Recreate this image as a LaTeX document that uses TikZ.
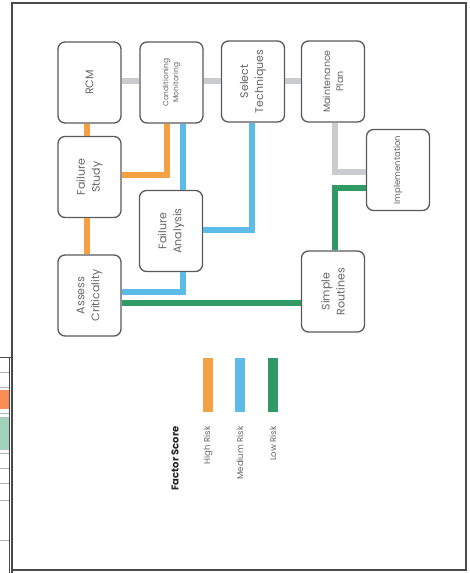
\documentclass[tikz,border=0pt]{standalone}
\usepackage{fontspec}
\setmainfont{Poppins}
\begin{document}
\begin{tikzpicture}[x=1pt,y=-1pt,
  box/.style={draw=boxc, line width=1.3pt, rounded corners=7pt, fill=white,
              minimum width=63pt, minimum height=81pt, inner sep=0pt},
  txt/.style={rotate=90, text=txtc, align=center, font=\fontsize{11}{15}\selectfont},
  conn/.style={line width=6pt},
  hi/.style={conn, draw=orangec},
  me/.style={conn, draw=bluec},
  lo/.style={conn, draw=greenc},
  gy/.style={conn, draw=grayc},
  leg/.style={rotate=90, anchor=east, text=txtc, font=\fontsize{8.5}{10}\selectfont}
]
\definecolor{boxc}{HTML}{5A5A5A}
\definecolor{txtc}{HTML}{666666}
\definecolor{orangec}{HTML}{F5A043}
\definecolor{bluec}{HTML}{5DBBE8}
\definecolor{greenc}{HTML}{2F9A63}
\definecolor{grayc}{HTML}{C9CBCF}
\definecolor{framec}{HTML}{4A4A4A}
\useasboundingbox (0,0) rectangle (470,573);
\fill[white] (0,0) rectangle (470,573);

% left strip (partial table)
\fill[orangec!70!red!80] (0,390) rectangle (10,409);
\fill[greenc!45] (0,417) rectangle (10,450);
\draw[framec, line width=1pt] (0,357) -- (12,357);
\foreach \yy in {372,387,413,453,468,483,500,540}
  \draw[gray!60, line width=0.5pt] (0,\yy) -- (10,\yy);

% frame
\draw[framec, line width=1.5pt] (12,573) -- (12,3) -- (466,3) -- (466,570) -- (12,570);
\draw[framec, line width=0.6pt] (9.5,357) -- (9.5,573);

% boxes
\node[box, label={[txt]center:RCM}] (rcm) at (89.5,82.5) {};
\node[box, label={[txt,font=\fontsize{7.5}{10}\selectfont]center:Conditioning\\Monitoring}] (cm) at (171.5,82.5) {};
\node[box, label={[txt]center:Select\\Techniques}] (st) at (253,81.5) {};
\node[box, label={[txt,font=\fontsize{9.5}{13}\selectfont]center:Maintenance\\Plan}] (mp) at (333,81.5) {};
\node[box, label={[txt,font=\fontsize{8.5}{10}\selectfont]center:Implementation}] (im) at (398,170) {};
\node[box, label={[txt]center:Failure\\Study}] (fs) at (89.5,177) {};
\node[box, label={[txt]center:Failure\\Analysis}] (fa) at (171,231) {};
\node[box, label={[txt]center:Assess\\Criticality}] (ac) at (89.5,295.5) {};
\node[box, label={[txt]center:Simple\\Routines}] (sr) at (333,291.5) {};

% helper coordinates
\coordinate (g1) at ([yshift=1.5pt]rcm.east);
\coordinate (g2) at ([yshift=1.5pt]cm.east);
\coordinate (g3) at ([yshift=0.5pt]st.east);
\coordinate (g4) at ([xshift=2pt]mp.south);
\coordinate (g5) at ([yshift=-2pt]im.west);
\coordinate (n1) at ([yshift=-18pt]im.west);
\coordinate (n2) at ([xshift=2pt]sr.north);
\coordinate (o1) at ([xshift=-2.5pt]rcm.south);
\coordinate (o2) at ([xshift=-2.5pt]fs.south);
\coordinate (o3) at ([yshift=2pt]fs.east);
\coordinate (o4) at ([xshift=-4.5pt]cm.south);
\coordinate (b1) at ([xshift=11.5pt]cm.south);
\coordinate (b2) at ([xshift=-1pt]st.south);
\coordinate (b3) at ([yshift=1pt]fa.east);
\coordinate (b4) at ([xshift=12pt]fa.south);
\coordinate (b5) at ([yshift=3.5pt]ac.east);
\coordinate (n3) at ([yshift=-7.5pt]ac.east);

% connectors
\draw[gy] (g1) -- (g1 -| cm.west);
\draw[gy] (g2) -- (g2 -| st.west);
\draw[gy] (g3) -- (g3 -| mp.west);
\draw[gy] (g4) |- (g5);
\draw[lo] (n1) -| (n2);
\draw[hi] (o1) -- (o1 |- fs.north);
\draw[hi] (o2) -- (o2 |- ac.north);
\draw[hi] (o3) -| (o4);
\draw[me] (b1) -- (b1 |- fa.north);
\draw[me] (b2) |- (b3);
\draw[me] (b4) |- (b5);
\draw[lo] (n3) -- (n3 -| sr.west);

% legend
\draw[orangec, line width=10pt] (208,358) -- (208,412);
\draw[bluec, line width=10pt] (240,358) -- (240,412);
\draw[greenc, line width=10pt] (273,358) -- (273,412);
\node[leg] (lh) at (208,423) {High Risk};
\node[leg] (lm) at (240,423) {Medium Risk};
\node[leg] (ll) at (273,423) {Low Risk};
\node[leg, text=black!85, font=\bfseries\fontsize{10}{12}\selectfont] (lt) at (175,423) {Factor Score};
\end{tikzpicture}
\end{document}
